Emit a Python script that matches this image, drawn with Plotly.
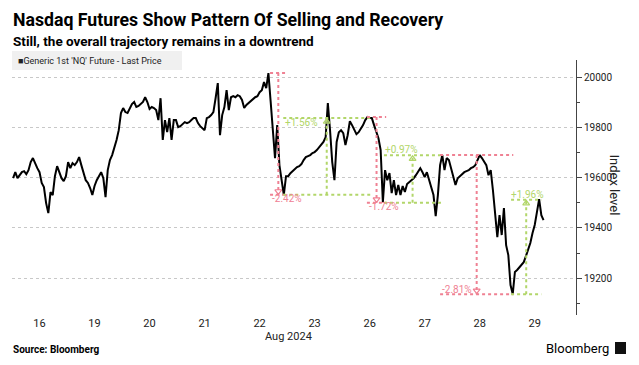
import plotly.graph_objects as go

# ---------------- data ----------------
days = ["16", "19", "20", "21", "22", "23", "26", "27", "28", "29"]
month_label = "Aug 2024"

p16 = [19598, 19622, 19598, 19610, 19622, 19626, 19614, 19630, 19662, 19678, 19654, 19638, 19622,
       19579, 19563, 19499, 19459, 19543, 19531, 19606, 19646, 19622, 19598, 19586, 19606]
p19 = [19662, 19638, 19658, 19650, 19662, 19682, 19650, 19618, 19590, 19579, 19559, 19531, 19567,
       19590, 19606, 19622, 19598, 19523, 19630, 19670, 19690, 19718, 19750, 19789, 19857]
p20 = [19877, 19861, 19857, 19873, 19893, 19901, 19881, 19885, 19893, 19901, 19920, 19901, 19873,
       19881, 19877, 19869, 19829, 19916, 19750, 19829, 19781, 19837, 19750, 19829, 19829]
p21 = [19801, 19805, 19813, 19821, 19817, 19821, 19829, 19837, 19837, 19817, 19805, 19797, 19789,
       19837, 19841, 19849, 19861, 19916, 19976, 19769, 19849, 19881, 19948, 19869, 19920]
p22 = [19924, 19920, 19928, 19924, 19909, 19877, 19889, 19897, 19905, 19916, 19920, 19924, 19940,
       19948, 19980, 19956, 20016, 19905, 19769, 19678, 19809, 19650, 19590, 19532, 19606]
p23 = [19606, 19618, 19626, 19634, 19642, 19646, 19654, 19670, 19682, 19686, 19690, 19698, 19702,
       19710, 19722, 19730, 19742, 19761, 19897, 19789, 19662, 19590, 19742, 19781, 19789]
p26 = [19777, 19730, 19769, 19825, 19809, 19793, 19773, 19781, 19793, 19809, 19829, 19841, 19837,
       19837, 19809, 19781, 19757, 19710, 19503, 19630, 19590, 19618, 19539, 19590, 19531]
p27 = [19571, 19531, 19567, 19543, 19575, 19582, 19590, 19598, 19610, 19622, 19638, 19622, 19602,
       19622, 19590, 19563, 19531, 19447, 19531, 19650, 19690, 19630, 19678, 19670, 19638]
p28 = [19598, 19571, 19598, 19606, 19614, 19622, 19626, 19630, 19638, 19642, 19650, 19670, 19690,
       19678, 19662, 19650, 19610, 19630, 19551, 19451, 19364, 19451, 19372, 19479, 19332]
p29 = [19292, 19173, 19137, 19225, 19233, 19245, 19253, 19264, 19288, 19312, 19340, 19380, 19412,
       19463, 19515, 19451, 19431]
prices_by_day = [p16, p19, p20, p21, p22, p23, p26, p27, p28, p29]
BARS_PER_DAY = 25

# move annotations (times in trading-day units, levels in index points)
seg_kind = ["down", "up", "down", "up", "down", "up"]
seg_start = [4.69, 4.93, 6.45, 6.76, 7.78, 9.07]
seg_end = [4.99, 6.51, 6.80, 7.80, 9.11, 9.62]
seg_from = [20016, 19532, 19841, 19500, 19690, 19137]
seg_to = [19532, 19837, 19500, 19689, 19137, 19512]
seg_label = ["-2.42%", "+1.56%", "-1.72%", "+0.97%", "-2.81%", "+1.96%"]
label_x = [4.99, 5.26, 6.76, 7.07, 8.08, 9.37]
label_y = [19518, 19821, 19484, 19713, 19157, 19535]

y_ticks = [19200, 19400, 19600, 19800, 20000]

# ---------------- build ----------------
RED = "#ef8193"
GREEN = "#b2d66a"
FONT = "Liberation Sans Narrow, Roboto, Liberation Sans, sans-serif"

# page body has an 8px margin; lay out in window pixels
OFF = 8
W, H = 639 - OFF, 365 - OFF
PL, PR, PT, PB = 12, 576, 60, 315  # plot area in window pixels
ML, MR, MT, MB = PL - OFF, W - (PR - OFF), PT - OFF, H - (PB - OFF)
PW, PH = PR - PL, PB - PT


def px(xw):
    return (xw - PL) / PW


def py(yw):
    return (PB - yw) / PH


xs, ys = [], []
for d, vals in enumerate(prices_by_day):
    for k, v in enumerate(vals):
        xs.append(d + (k + 0.5) / BARS_PER_DAY)
        ys.append(v)

fig = go.Figure()
fig.add_trace(go.Scatter(x=xs, y=ys, mode="lines",
                         line=dict(color="#000000", width=2),
                         showlegend=False, hoverinfo="skip"))

shapes = []
ann = []
mk_x, mk_y, mk_sym, mk_col = [], [], [], []
for kind, s, e, a, b, lab, lx, ly in zip(seg_kind, seg_start, seg_end, seg_from, seg_to,
                                         seg_label, label_x, label_y):
    col = RED if kind == "down" else GREEN
    mid = (s + e) / 2
    for lvl in (a, b):
        shapes.append(dict(type="line", xref="x", yref="y", x0=s, x1=e, y0=lvl, y1=lvl,
                           line=dict(color=col, width=2, dash="dot")))
    shapes.append(dict(type="line", xref="x", yref="y", x0=mid, x1=mid, y0=a, y1=b,
                       line=dict(color=col, width=2, dash="dot")))
    mk_x.append(mid)
    if kind == "down":
        mk_y.append(b + 14)
        mk_sym.append("triangle-down-open")
    else:
        mk_y.append(b - 14)
        mk_sym.append("triangle-up-open")
    mk_col.append(col)
    ann.append(dict(x=lx, y=ly, xref="x", yref="y", text=lab, showarrow=False,
                    font=dict(family=FONT, size=10, color=col)))

fig.add_trace(go.Scatter(x=mk_x, y=mk_y, mode="markers",
                         marker=dict(symbol=mk_sym, size=6, color=mk_col, line=dict(width=1.2, color=mk_col)),
                         showlegend=False, hoverinfo="skip"))

# legend box
shapes.append(dict(type="rect", xref="paper", yref="paper", x0=px(12), x1=px(182), y0=py(70), y1=py(51),
                   fillcolor="#f0f0f0", line=dict(width=0), layer="below"))
ann.append(dict(x=px(16), y=py(61), xref="paper", yref="paper", xanchor="left", yanchor="middle",
                text="■Generic 1st 'NQ' Future - Last Price", showarrow=False,
                font=dict(family=FONT, size=9, color="#222")))

# titles & footer
ann.append(dict(x=px(11), y=py(20), xref="paper", yref="paper", xanchor="left", yanchor="middle",
                text="<b>Nasdaq Futures Show Pattern Of Selling and Recovery</b>", showarrow=False,
                font=dict(family=FONT, size=17.7, color="#000")))
ann.append(dict(x=px(11), y=py(41), xref="paper", yref="paper", xanchor="left", yanchor="middle",
                text="<b>Still, the overall trajectory remains in a downtrend</b>", showarrow=False,
                font=dict(family=FONT, size=13.5, color="#000")))
ann.append(dict(x=px(11), y=py(349), xref="paper", yref="paper", xanchor="left", yanchor="middle",
                text="<b>Source: Bloomberg</b>", showarrow=False,
                font=dict(family=FONT, size=10, color="#000")))
ann.append(dict(x=px(611), y=py(348), xref="paper", yref="paper", xanchor="right", yanchor="middle",
                text="Bloomberg", showarrow=False,
                font=dict(family=FONT, size=13, color="#000")))
shapes.append(dict(type="rect", xref="paper", yref="paper",
                   x0=px(615), x1=px(626), y0=py(354), y1=py(342),
                   fillcolor="#111", line=dict(width=0)))
ann.append(dict(x=px(288), y=py(336), xref="paper", yref="paper", text=month_label, showarrow=False,
                yanchor="middle", font=dict(family=FONT, size=11, color="#222")))
ann.append(dict(x=px(624), y=py(185), xref="paper", yref="paper", text="Index level",
                textangle=90, showarrow=False, font=dict(family=FONT, size=13, color="#222")))

fig.update_layout(
    width=W, height=H,
    margin=dict(l=ML, r=MR, t=MT, b=MB, pad=0),
    paper_bgcolor="white", plot_bgcolor="white",
    shapes=shapes, annotations=ann,
    xaxis=dict(range=[0, 10.25], tickvals=[i + 0.5 for i in range(len(days))], ticktext=days,
               showgrid=False, zeroline=False, showline=False, ticks="", automargin=False,
               tickfont=dict(family=FONT, size=11, color="#222")),
    yaxis=dict(side="right", range=[19054, 20068], tickvals=y_ticks, tickformat="d",
               showgrid=True, gridcolor="#c8c8c8", griddash="dot", gridwidth=1,
               zeroline=False, showline=True, linecolor="#444", linewidth=1,
               ticks="outside", ticklen=5, tickcolor="#444", automargin=False,
               minor=dict(dtick=100, ticks="outside", ticklen=3, tickcolor="#444", showgrid=False),
               tickfont=dict(family=FONT, size=10, color="#222")),
)

fig.write_html("out.html")
